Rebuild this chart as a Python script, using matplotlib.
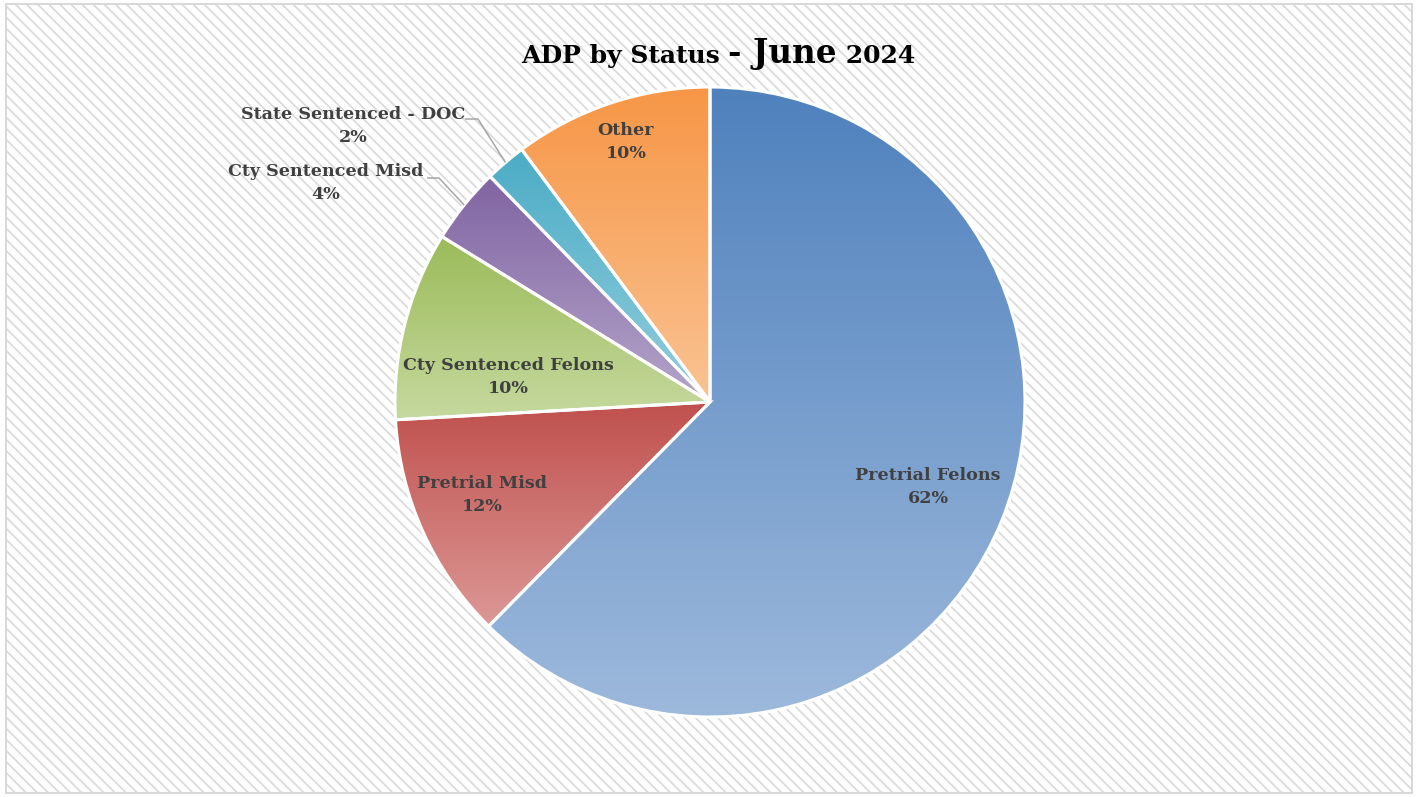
import numpy as np
import matplotlib
matplotlib.use("Agg")
import matplotlib.pyplot as plt
from matplotlib.patches import Rectangle
from matplotlib.colors import to_rgb

# ---- data ----
categories = ["Pretrial Felons", "Pretrial Misd", "Cty Sentenced Felons",
              "Cty Sentenced Misd", "State Sentenced - DOC", "Other"]
values = [62.4, 11.7, 9.7, 3.9, 2.1, 10.2]
pct_labels = ["62%", "12%", "10%", "4%", "2%", "10%"]
title_parts = ["ADP by Status ", "- June", " 2024"]

# ---- style ----
top_colors = ["#4F81BD", "#C0504D", "#9BBB59", "#8064A2", "#4BACC6", "#F79646"]
bot_colors = ["#9DB9DC", "#DC9896", "#C6D99F", "#B5A5CA", "#93CEDD", "#FAC393"]
W, H = 1416, 797
CX, CY, R = 710, 402, 315          # pixel layout of the pie
FONT = ["DejaVu Serif"]
TXT = "#404040"

plt.rcParams["hatch.linewidth"] = 1.2
plt.rcParams["hatch.color"] = "#E5E5E5"

fig = plt.figure(figsize=(W / 100, H / 100), dpi=100)
ax = fig.add_axes([0, 0, 1, 1])

def Y(y):  # pixel row -> data y
    return H - y

# background frame with diagonal hatching
bg = Rectangle((6, Y(793)), 1406, 789, facecolor="white", edgecolor="#D9D9D9",
               hatch="\\\\\\", linewidth=1.2, zorder=0)
ax.add_patch(bg)
border = Rectangle((6, Y(793)), 1406, 789, facecolor="none", edgecolor="#D9D9D9",
                   linewidth=1.5, zorder=1)
ax.add_patch(border)

wedges, _ = ax.pie(values, startangle=90, counterclock=False, center=(CX, Y(CY)),
                   radius=R, frame=True,
                   wedgeprops=dict(facecolor="none", edgecolor="white", linewidth=2.2))
for w in wedges:
    w.set_zorder(3)

# gradient fills
for w, c1, c2 in zip(wedges, top_colors, bot_colors):
    ext = w.get_path().get_extents()
    a, b = np.array(to_rgb(c1)), np.array(to_rgb(c2))
    t = np.linspace(0, 1, 256)[:, None]
    grad = (a[None, :] * (1 - t) + b[None, :] * t)[:, None, :]
    im = ax.imshow(grad, extent=[ext.x0, ext.x1, ext.y0, ext.y1], origin="upper",
                   aspect="auto", interpolation="bilinear", zorder=2)
    im.set_clip_path(w)

# label centers (pixels)
label_pos = {
    0: (928, 487), 1: (482, 495), 2: (508, 377), 3: (326, 183), 4: (353, 126), 5: (626, 142),
}
fs = 12.6
for i, (cat, p) in enumerate(zip(categories, pct_labels)):
    x, y = label_pos[i]
    ax.text(x, Y(y), f"{cat}\n{p}", ha="center", va="center", fontsize=fs,
            fontweight="bold", color=TXT, family=FONT, linespacing=1.45, zorder=5)

# leader lines for the small outside slices
cum = np.cumsum([0] + values)
tot = sum(values)
elbows = {3: ((427, 178), (439, 178)), 4: ((465, 119), (478, 119))}
for i, (p0, p1) in elbows.items():
    mid = (cum[i] + cum[i + 1]) / 2 / tot * 360
    ex = CX + R * np.sin(np.radians(mid))
    ey = CY - R * np.cos(np.radians(mid))
    ax.plot([p0[0], p1[0], ex], [Y(p0[1]), Y(p1[1]), Y(ey)], color="#A6A6A6",
            lw=1.1, zorder=4, solid_capstyle="butt")

ax.set_xlim(0, W)
ax.set_ylim(0, H)
ax.axis("off")

# title in three runs, centered
sizes = [18, 23.5, 18]
fig.canvas.draw()
r = fig.canvas.get_renderer()
texts = []
for s, sz in zip(title_parts, sizes):
    t = ax.text(0, Y(63), s, fontsize=sz, fontweight="bold", color="black",
                family=FONT, ha="left", va="baseline", zorder=6)
    texts.append(t)
widths = [t.get_window_extent(r).width for t in texts]
x = 718 - sum(widths) / 2
for t, wdt in zip(texts, widths):
    t.set_x(x)
    x += wdt

fig.savefig("out.png", dpi=100)
